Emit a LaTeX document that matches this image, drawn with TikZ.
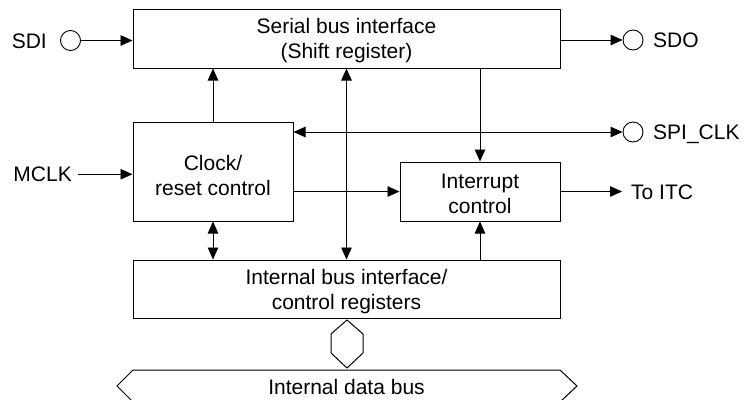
\documentclass[tikz,border=0pt]{standalone}
\usepackage{fontspec}
\setmainfont{Liberation Sans}
\usetikzlibrary{arrows.meta,calc}
\begin{document}
\begin{tikzpicture}[x=1pt,y=-1pt,
  box/.style={draw,line width=1pt,inner sep=0pt},
  boxtext/.style={inner sep=0pt,align=center,font=\fontsize{21}{25.5}\selectfont},
  pinc/.style={draw,circle,line width=0.9pt,minimum size=20pt,inner sep=0pt},
  lbl/.style={inner sep=0pt,font=\fontsize{21}{25}\selectfont},
  conn/.style={line width=0.9pt},
  tip/.style={-{Triangle[length=12pt,width=10.5pt]}},
  tips/.style={{Triangle[length=12pt,width=10.5pt]}-{Triangle[length=12pt,width=10.5pt]}},
  busshape/.style={line width=1pt,line join=miter}
]
\useasboundingbox (0,0) rectangle (744,399);

% blocks
\node[box,minimum width=427pt,minimum height=59pt] (serial) at (346.5,38.5) {};
\node[boxtext] (serialt) at ($(serial.center)+(0,2)$) {Serial bus interface\\(Shift register)};
\node[box,minimum width=160pt,minimum height=99pt] (clock) at (213,171.5) {};
\node[boxtext] (clockt) at ($(clock.center)+(0,4)$) {Clock/\\reset control};
\node[box,minimum width=160pt,minimum height=59pt] (intr) at (480,191.5) {};
\node[boxtext] (intrt) at ($(intr.center)+(0,2.5)$) {Interrupt\\control};
\node[box,minimum width=427pt,minimum height=58pt] (ibus) at (346.5,289) {};
\node[boxtext] (ibust) at ($(ibus.center)+(0,2.5)$) {Internal bus interface/\\control registers};

% pins
\node[pinc] (sdi) at (70.5,40.5) {};
\node[pinc] (sdo) at (633,40) {};
\node[pinc] (spi) at (633,132) {};

% labels
\node[lbl,anchor=base east] (sdil) at (47,48) {SDI};
\node[lbl,anchor=base east] (mclk) at (72,181.5) {MCLK};
\node[lbl,anchor=base west] (sdol) at (653,47.5) {SDO};
\node[lbl,anchor=base west] (spil) at (653,139.5) {SPI\_CLK};
\node[lbl,anchor=base west] (itc) at (631,199) {To ITC};

% connectors
\draw[conn,tip] (sdi) -- (sdi -| serial.west);
\draw[conn,tip] (serial.east |- sdo) -- (sdo);
\draw[conn,tips] (spi -| clock.east) -- (spi);
\draw[conn,tip] ([xshift=6pt]mclk.east) -- (mclk.east -| clock.west);
\draw[conn,tip] (clock.north) -- (clock.north |- serial.south);
\draw[conn,tips] (clock.south) -- (clock.south |- ibus.north);
\draw[conn,tips] (serial.south) -- (ibus.north);
\draw[conn,tip] (serial.south -| intr.north) -- (intr.north);
\draw[conn,tip] (intr.west -| clock.east) -- (intr.west);
\draw[conn,tip] (intr.east) -- ([xshift=-9pt]itc.west |- intr.east);
\draw[conn,tip] (ibus.north -| intr.south) -- (intr.south);

% bus connector and data bus
\draw[busshape] (347,320) -- (363,334) -- (363,353) -- (347,368) -- (331,353) -- (331,334) -- cycle;
\draw[busshape] (133,370) -- (560,370) -- (577,386) -- (560,402) -- (133,402) -- (117,386) -- cycle;
\node[lbl,anchor=base] (dbus) at (346.5,394) {Internal data bus};
\end{tikzpicture}
\end{document}
